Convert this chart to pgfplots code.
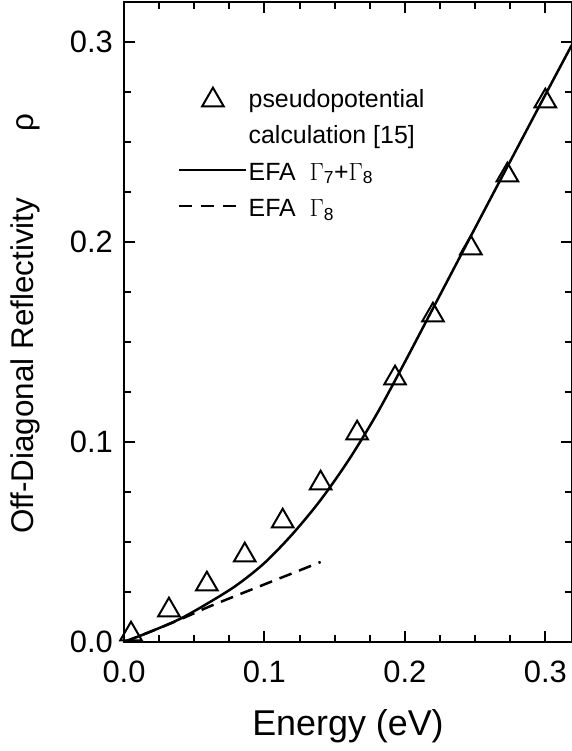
\documentclass[border=0pt]{standalone}
\usepackage{pgfplots}
\pgfplotsset{compat=1.18}
\usepackage{fontspec}
\setmainfont{Liberation Sans}
\begin{document}
\begin{tikzpicture}
\begin{axis}[
  width=448bp, height=640bp, scale only axis,
  xmin=0, xmax=0.319, ymin=0, ymax=0.32,
  xtick={0,0.1,0.2,0.3}, ytick={0,0.1,0.2,0.3},
  minor x tick num=3, minor y tick num=3,
  tick align=inside, xtick pos=both, ytick pos=both,
  major tick length=11bp, minor tick length=7bp,
  axis line style={line width=2.5bp},
  every tick/.style={line width=2bp, black},
  /pgf/number format/assume math mode=true,
  /pgf/number format/fixed, /pgf/number format/fixed zerofill, /pgf/number format/precision=1,
  xticklabel style={font=\fontsize{31}{36}\selectfont, inner sep=0pt, yshift=-19bp},
  yticklabel style={font=\fontsize{31}{36}\selectfont, inner sep=0pt, xshift=-11bp},
  xlabel={Energy (eV)},
  xlabel style={font=\fontsize{36}{40}\selectfont, at={(axis description cs:0.5,0)}, anchor=base, yshift=-93bp, inner sep=0pt},
  ylabel={Off-Diagonal Reflectivity\hspace{66bp}ρ},
  ylabel style={font=\fontsize{31.5}{38}\selectfont, at={(axis description cs:-0.2009,0.497)}, anchor=base, inner sep=0pt},
  legend cell align=left,
  legend style={at={(axis description cs:0.1205,0.8735)}, anchor=north west, draw=none, fill=none,
    inner sep=0pt, column sep=1bp, row sep=2.5bp, font=\fontsize{25}{34}\selectfont,
    nodes={inner sep=0pt, text height=24bp, text depth=10bp}},
]
\addplot[only marks, mark=triangle, mark size=12.5bp, mark options={line width=2bp, solid},
  legend image code/.code={\draw[mark=triangle, mark size=12.5bp, mark options={line width=2bp}] plot coordinates {(33.5bp,0bp)};}]
  coordinates {
  (0.005,0.0039) (0.032,0.0159) (0.059,0.0289) (0.086,0.0434) (0.113,0.0604) (0.140,0.0794)
  (0.166,0.1044) (0.193,0.1319) (0.220,0.1634) (0.247,0.1969) (0.273,0.2334) (0.300,0.2704)};
\addlegendentry{pseudopotential}
\addlegendimage{empty legend}
\addlegendentry{calculation [15]}
\addplot[line width=2.5bp, smooth,
  legend image code/.code={\draw[line width=2.5bp] (0bp,3bp) -- (67bp,3bp);}]
  coordinates {
  (0,0) (0.02,0.0055) (0.04,0.0116) (0.06,0.0195) (0.08,0.0283) (0.10,0.0395) (0.12,0.0540)
  (0.14,0.0710) (0.16,0.0910) (0.18,0.1140) (0.20,0.1400) (0.22,0.1668) (0.24,0.1936)
  (0.26,0.2204) (0.28,0.2470) (0.30,0.2736) (0.32,0.3000)};
\addlegendentry{EFA~~$\Gamma$\textsubscript{7}+$\Gamma$\textsubscript{8}}
\addplot[line width=2.5bp, smooth, dash pattern=on 13bp off 8bp,
  legend image code/.code={\draw[line width=2.5bp, dash pattern=on 13bp off 9bp] (0bp,3.5bp) -- (57bp,3.5bp); \path (67bp,0bp);}]
  coordinates {
  (0,0) (0.02,0.0055) (0.04,0.0113) (0.06,0.0175) (0.08,0.0232) (0.10,0.0288) (0.12,0.0344) (0.14,0.0400)};
\addlegendentry{EFA~~$\Gamma$\textsubscript{8}}
\coordinate (SW) at (rel axis cs:0,0);
\end{axis}
\pgfresetboundingbox
\path[use as bounding box] ([xshift=-124bp,yshift=-109bp]SW) rectangle ++(572bp,751bp);
\end{tikzpicture}
\end{document}
